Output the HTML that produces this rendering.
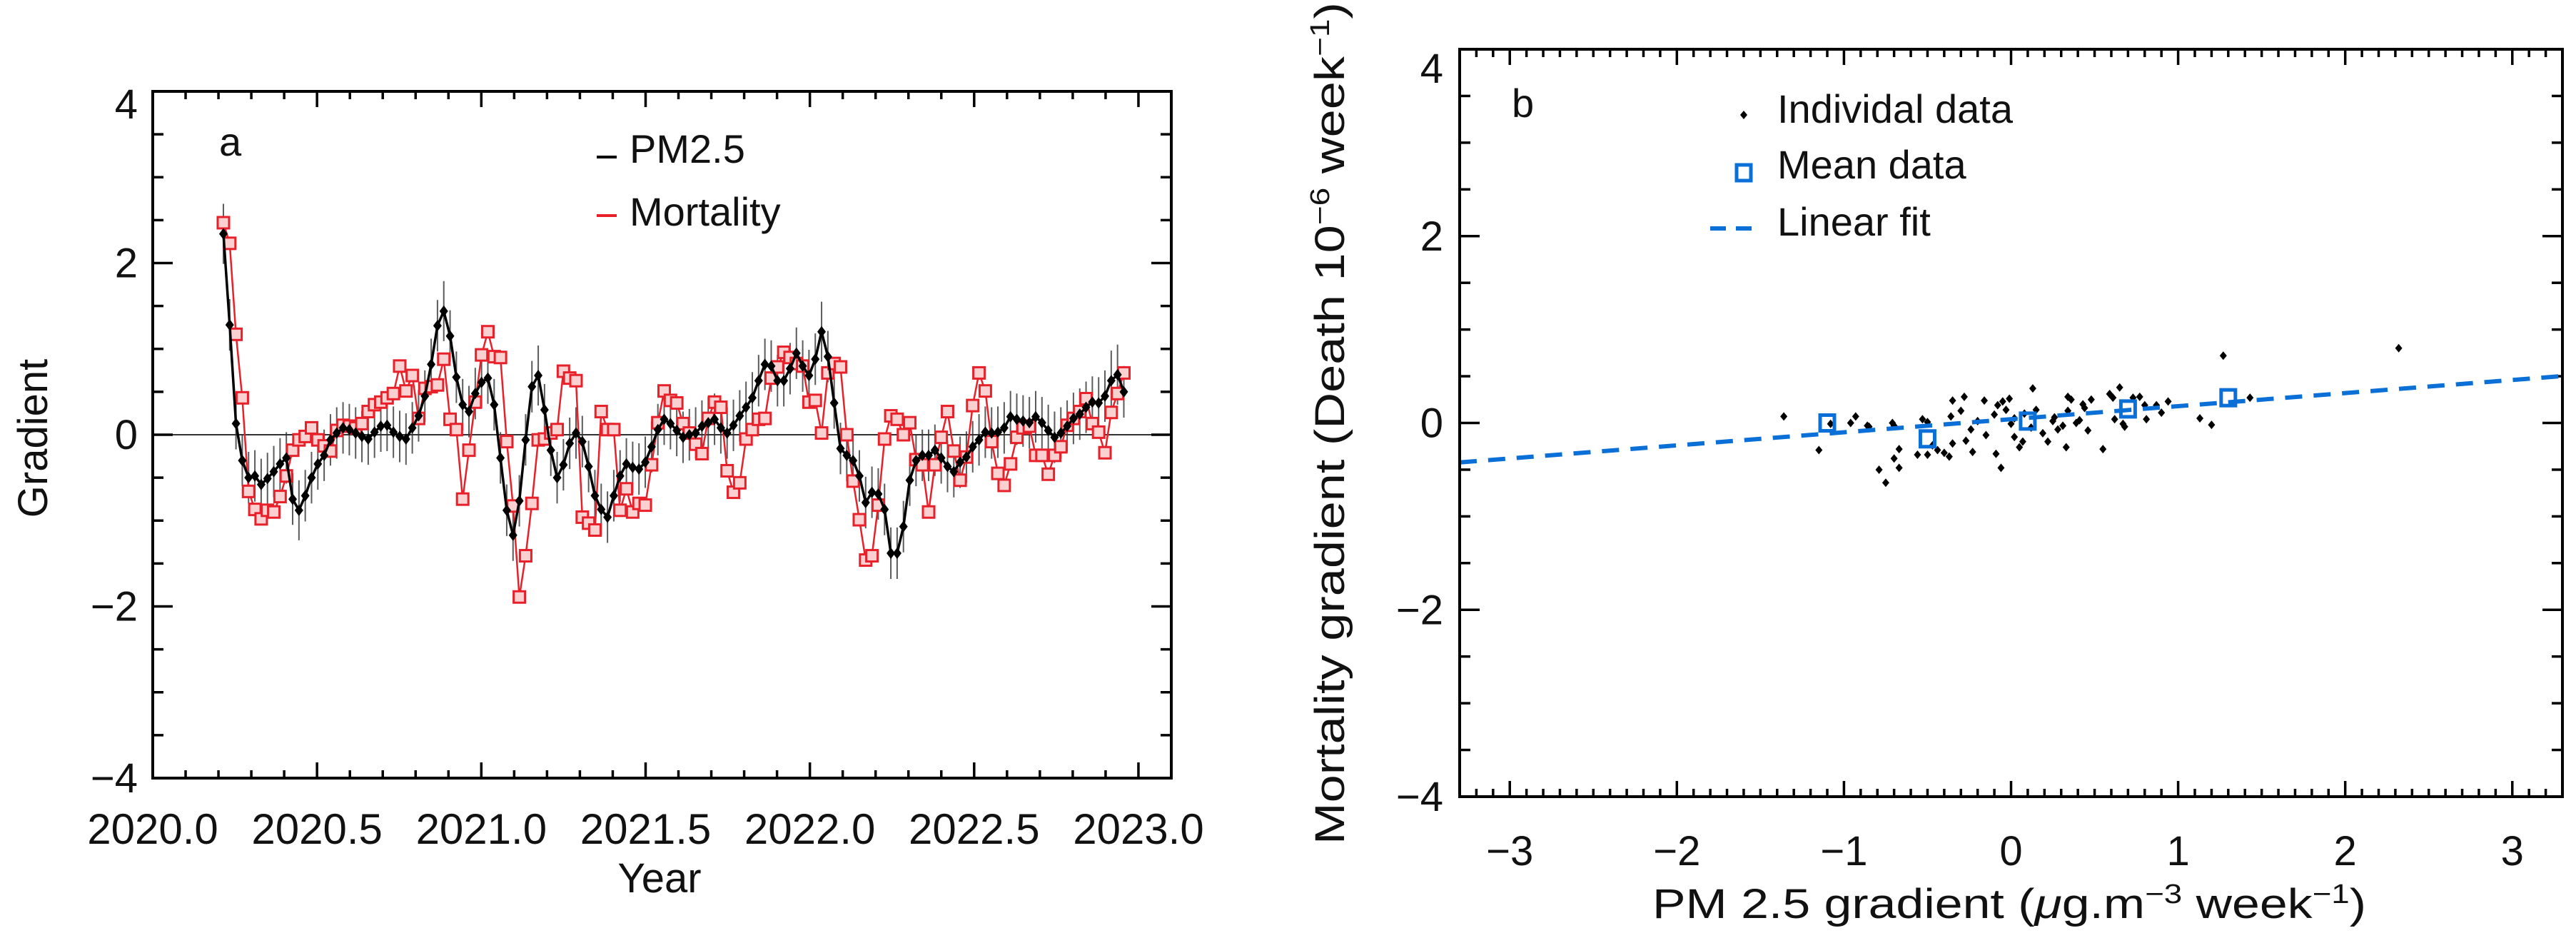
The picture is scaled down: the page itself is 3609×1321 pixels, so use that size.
<!DOCTYPE html>
<html><head><meta charset="utf-8"><style>
html,body{margin:0;padding:0;background:#fff;}
svg{display:block;font-family:"Liberation Sans",sans-serif;}
</style></head><body>
<svg id="fig" width="3609" height="1321" viewBox="0 0 3609 1321" xmlns="http://www.w3.org/2000/svg">
<rect x="0" y="0" width="3609" height="1321" fill="#fff"/>
<g id="panelA"></g>
<g id="panelB"></g>
</svg>
<script>
// ---------- Panel a data ----------
const weekStart = 2020.215;
const weekStep = 1/52.18;
const pmValues = [2.34,1.28,0.13,-0.30,-0.50,-0.48,-0.58,-0.51,-0.43,-0.34,-0.27,-0.75,-0.88,-0.71,-0.50,-0.34,-0.24,-0.06,0.02,0.08,0.06,0.02,-0.02,-0.05,0.03,0.10,0.11,0.03,-0.02,-0.05,0.08,0.22,0.45,0.82,1.27,1.44,1.15,0.67,0.35,0.27,0.48,0.61,0.66,0.35,-0.27,-0.88,-1.17,-0.77,-0.06,0.56,0.69,0.29,-0.18,-0.50,-0.35,-0.10,0.02,-0.08,-0.37,-0.71,-0.87,-0.96,-0.71,-0.48,-0.34,-0.38,-0.40,-0.32,-0.14,0.06,0.18,0.13,0.05,-0.03,0.00,0.02,0.10,0.14,0.18,0.08,0.02,0.11,0.22,0.32,0.43,0.63,0.82,0.80,0.63,0.63,0.77,0.95,0.80,0.69,0.88,1.20,0.91,0.37,-0.16,-0.24,-0.30,-0.48,-0.79,-0.67,-0.69,-0.87,-1.38,-1.38,-1.07,-0.53,-0.30,-0.24,-0.24,-0.18,-0.27,-0.37,-0.43,-0.32,-0.26,-0.14,-0.06,0.03,0.02,0.03,0.08,0.21,0.18,0.16,0.14,0.21,0.14,0.05,-0.03,0.02,0.10,0.19,0.24,0.32,0.38,0.37,0.45,0.63,0.70,0.50];
const pmErr = [0.35,0.3,0.3,0.3,0.3,0.3,0.3,0.3,0.3,0.3,0.3,0.3,0.35,0.3,0.3,0.3,0.3,0.3,0.3,0.3,0.3,0.3,0.3,0.3,0.3,0.3,0.3,0.3,0.3,0.3,0.3,0.3,0.3,0.3,0.3,0.35,0.3,0.3,0.3,0.3,0.3,0.3,0.3,0.3,0.3,0.3,0.3,0.3,0.3,0.3,0.35,0.3,0.3,0.3,0.3,0.3,0.3,0.3,0.3,0.3,0.3,0.3,0.3,0.3,0.3,0.3,0.3,0.3,0.3,0.3,0.3,0.3,0.3,0.3,0.3,0.3,0.3,0.3,0.3,0.3,0.3,0.3,0.3,0.3,0.3,0.3,0.3,0.3,0.3,0.3,0.3,0.3,0.3,0.3,0.3,0.35,0.3,0.3,0.3,0.3,0.3,0.3,0.3,0.3,0.3,0.3,0.3,0.3,0.3,0.3,0.3,0.3,0.3,0.3,0.3,0.3,0.3,0.3,0.3,0.3,0.3,0.3,0.3,0.3,0.3,0.3,0.3,0.3,0.3,0.3,0.3,0.3,0.3,0.3,0.3,0.3,0.3,0.3,0.3,0.3,0.3,0.35,0.35,0.3];
const mortValues = [2.47,2.23,1.17,0.43,-0.66,-0.87,-0.98,-0.88,-0.90,-0.72,-0.48,-0.18,-0.06,-0.02,0.08,-0.06,-0.13,-0.19,0.05,0.11,0.10,0.08,0.13,0.27,0.35,0.38,0.43,0.48,0.80,0.51,0.69,0.19,0.54,0.56,0.58,0.88,0.18,0.06,-0.75,-0.18,0.38,0.93,1.20,0.91,0.90,-0.08,-0.83,-1.89,-1.41,-0.80,-0.06,-0.05,0.02,0.06,0.74,0.66,0.63,-0.96,-1.03,-1.11,0.27,0.06,0.06,-0.88,-0.63,-0.90,-0.80,-0.82,-0.35,0.14,0.51,0.40,0.37,0.13,0.02,-0.11,-0.22,0.19,0.38,0.32,-0.42,-0.67,-0.56,-0.05,0.06,0.18,0.19,0.66,0.79,0.96,0.90,0.83,0.80,0.38,0.40,0.02,0.72,0.83,0.79,0.00,-0.54,-0.99,-1.46,-1.41,-0.82,-0.05,0.22,0.18,0.00,0.14,-0.29,-0.35,-0.90,-0.35,-0.03,0.27,-0.19,-0.53,-0.26,0.34,0.72,0.51,-0.08,-0.45,-0.59,-0.34,-0.03,0.08,0.10,-0.24,-0.24,-0.46,-0.24,-0.14,0.11,0.19,0.27,0.42,0.13,0.03,-0.21,0.26,0.48,0.72];
const aXTicks = ["2020.0","2020.5","2021.0","2021.5","2022.0","2022.5","2023.0"];
const aYTicks = ["4","2","0","\u22122","\u22124"];

// ---------- Panel b data ----------
const indivX = [-1.36,-1.15,-1.08,-0.96,-0.93,-0.86,-0.85,-0.71,-0.70,-0.79,-0.75,-0.70,-0.67,-0.67,-0.56,-0.53,-0.50,-0.50,-0.47,-0.44,-0.40,-0.37,-0.35,-0.35,-0.36,-0.30,-0.28,-0.27,-0.24,-0.23,-0.16,-0.15,-0.09,-0.06,-0.10,-0.08,-0.05,-0.01,-0.03,0.00,0.02,0.07,0.05,0.13,0.15,0.19,0.22,0.26,0.28,0.31,0.33,0.34,0.36,0.34,0.39,0.41,0.43,0.44,0.46,0.48,0.55,0.59,0.61,0.65,0.62,0.67,0.68,0.73,0.77,0.80,0.81,0.87,0.90,0.94,1.13,1.20,1.43,1.27,2.32,0.02,0.08,-0.20,0.12,0.25];
const indivY = [0.07,-0.29,-0.01,0.00,0.07,-0.03,-0.04,0.00,-0.03,-0.50,-0.64,-0.38,-0.48,-0.28,-0.34,0.04,0.01,-0.34,-0.24,-0.29,-0.32,-0.36,-0.22,0.24,0.07,0.13,0.28,-0.19,-0.07,-0.31,0.24,-0.13,-0.33,-0.48,0.09,0.19,0.23,0.26,0.14,-0.01,-0.15,-0.20,-0.26,0.37,0.14,-0.11,-0.20,0.06,-0.07,-0.03,-0.26,0.28,0.25,0.13,0.00,0.03,0.20,0.16,-0.08,0.25,-0.28,0.31,0.27,0.38,0.04,-0.01,-0.04,0.27,0.28,0.19,0.04,0.19,0.11,0.23,0.05,-0.02,0.27,0.72,0.80,0.05,0.10,0.02,-0.05,0.02];
const meanX = [-1.1,-0.5,0.1,0.7,1.3];
const meanY = [0.0,-0.17,0.02,0.15,0.27];
const fitSlope = [0.14];
const fitIntercept = [0.04];
const bXTicks = ["\u22123","\u22122","\u22121","0","1","2","3"];
const bXTickVals = [-3,-2,-1,0,1,2,3];
const bYTicks = ["4","2","0","\u22122","\u22124"];
const bYTickVals = [4,2,0,-2,-4];

const NS = "http://www.w3.org/2000/svg";
function mk(parent, tag, attrs){
  const e = document.createElementNS(NS, tag);
  for (const k in attrs) e.setAttribute(k, attrs[k]);
  parent.appendChild(e);
  return e;
}

// ================= PANEL A =================
(function(){
  const g = document.getElementById('panelA');
  const L=214, R=1641, T=128, B=1090;
  const x0=2020.0, x1=2023.1, y0=-4, y1=4;
  const xs = v => L + (v-x0)/(x1-x0)*(R-L);
  const ys = v => B - (v-y0)/(y1-y0)*(B-T);

  const z = mk(g,'line',{x1:L,x2:R,y1:ys(0),y2:ys(0),stroke:'#333','stroke-width':2});
  
  

  const tg = mk(g,'g',{stroke:'#000','stroke-width':3.5});
  
  
  for (let k=0;k<=31;k++){
    const v = x0 + k*0.1, x = xs(v);
    const len = (k%5===0)?22:11;
    mk(tg,'line',{x1:x,x2:x,y1:B,y2:B-len});
    mk(tg,'line',{x1:x,x2:x,y1:T,y2:T+len});
  }
  for (let k=0;k<=16;k++){
    const v = y0 + k*0.5, y = ys(v);
    const len = (k%4===0)?28:15;
    mk(tg,'line',{x1:L,x2:L+len,y1:y,y2:y});
    mk(tg,'line',{x1:R,x2:R-len,y1:y,y2:y});
  }

  const eg = mk(g,'g',{stroke:'#333','stroke-width':2,opacity:0.8});
  
  
  pmValues.forEach((v,i)=>{
    const x = xs(weekStart + i*weekStep);
    mk(eg,'line',{x1:x,x2:x,y1:ys(v+pmErr[i]),y2:ys(v-pmErr[i])});
  });

  let dm = '';
  mortValues.forEach((v,i)=>{ dm += (i?'L':'M') + xs(weekStart+i*weekStep).toFixed(1) + ',' + ys(v).toFixed(1); });
  const ml = mk(g,'path',{d:dm,fill:'none',stroke:'#e8202a','stroke-width':2.5});
  
  
  const mg = mk(g,'g',{fill:'#fbd0d0',stroke:'#e8202a','stroke-width':3});
  
  
  mortValues.forEach((v,i)=>{
    const x = xs(weekStart+i*weekStep), y = ys(v);
    const r = mk(mg,'rect',{x:x-8,y:y-8,width:16,height:16});
    
    
  });

  let dp = '';
  pmValues.forEach((v,i)=>{ dp += (i?'L':'M') + xs(weekStart+i*weekStep).toFixed(1) + ',' + ys(v).toFixed(1); });
  const pl = mk(g,'path',{d:dp,fill:'none',stroke:'#000','stroke-width':3.5});
  
  
  const pg = mk(g,'g',{fill:'#000'});
  
  
  pmValues.forEach((v,i)=>{
    const x = xs(weekStart+i*weekStep), y = ys(v);
    const p = mk(pg,'polygon',{points:`${x},${y-8} ${x+6},${y} ${x},${y+8} ${x-6},${y}`});
    
    
  });

  const fr = mk(g,'rect',{x:L,y:T,width:R-L,height:B-T,fill:'none',stroke:'#000','stroke-width':4});
  
  

  aXTicks.forEach((s,i)=>{
    const t = mk(g,'text',{x:xs(2020+0.5*i),y:1182,'font-size':60,'text-anchor':'middle',fill:'#111'});
    t.textContent = s;
    
    
  });
  aYTicks.forEach((s,i)=>{
    const v = 4 - 2*i;
    let cy = ys(v); if (i===0) cy = 146;
    const t = mk(g,'text',{x:193,y:cy+20,'font-size':58,'text-anchor':'end',fill:'#111'});
    t.textContent = s;
    
    
  });
})();

// ================= PANEL B =================
(function(){
  const g = document.getElementById('panelB');
  const L=2045, R=3590, T=69, B=1116;
  const x0=-3.3, x1=3.3, y0=-4, y1=4;
  const xs = v => L + (v-x0)/(x1-x0)*(R-L);
  const ys = v => B - (v-y0)/(y1-y0)*(B-T);

  const tg = mk(g,'g',{stroke:'#000','stroke-width':3.5});
  
  
  for (let k=-33;k<=33;k++){
    const x = xs(k/10);
    const len = (k%10===0)?22:11;
    mk(tg,'line',{x1:x,x2:x,y1:B,y2:B-len});
    mk(tg,'line',{x1:x,x2:x,y1:T,y2:T+len});
  }
  for (let k=0;k<=16;k++){
    const y = ys(y0 + k*0.5);
    const len = (k%4===0)?28:15;
    mk(tg,'line',{x1:L,x2:L+len,y1:y,y2:y});
    mk(tg,'line',{x1:R,x2:R-len,y1:y,y2:y});
  }

  const dg = mk(g,'g',{fill:'#000'});
  
  
  indivX.forEach((v,i)=>{
    const x = xs(v), y = ys(indivY[i]);
    const p = mk(dg,'polygon',{points:`${x},${y-6} ${x+5},${y} ${x},${y+6} ${x-5},${y}`});
    
    
  });

  const fl = mk(g,'line',{x1:xs(x0),y1:ys(fitIntercept[0]+fitSlope[0]*x0),x2:xs(x1),y2:ys(fitIntercept[0]+fitSlope[0]*x1),stroke:'#0a6fd6','stroke-width':6,'stroke-dasharray':'24,16'});
  
  

  const sg = mk(g,'g',{fill:'none',stroke:'#0a6fd6','stroke-width':5});
  
  
  meanX.forEach((v,i)=>{
    const x = xs(v), y = ys(meanY[i]);
    const r = mk(sg,'rect',{x:x-10,y:y-11,width:20,height:22});
    
    
  });

  const fr = mk(g,'rect',{x:L,y:T,width:R-L,height:B-T,fill:'none',stroke:'#000','stroke-width':4});
  
  

  bXTicks.forEach((s,i)=>{
    const t = mk(g,'text',{x:xs(bXTickVals[i]),y:1212,'font-size':58,'text-anchor':'middle',fill:'#111'});
    t.textContent = s;
    
    
  });
  bYTicks.forEach((s,i)=>{
    let cy = ys(bYTickVals[i]); if (i===0) cy = 96;
    const t = mk(g,'text',{x:2022,y:cy+20,'font-size':58,'text-anchor':'end',fill:'#111'});
    t.textContent = s;
    
    
  });
})();
</script>

<svg style="position:absolute;left:0;top:0" width="3609" height="1321" viewBox="0 0 3609 1321" xmlns="http://www.w3.org/2000/svg">
<g font-family="Liberation Sans, sans-serif" fill="#111">
  <text x="307" y="218" font-size="56">a</text>
  <line x1="836" y1="220" x2="864" y2="220" stroke="#000" stroke-width="4"/>
  <text x="882" y="228" font-size="56">PM2.5</text>
  <line x1="836" y1="302" x2="864" y2="302" stroke="#e8202a" stroke-width="4"/>
  <text x="882" y="316" font-size="56">Mortality</text>
  <text x="924" y="1250" font-size="58" text-anchor="middle">Year</text>
  <text transform="translate(66,614) rotate(-90)" font-size="58" text-anchor="middle">Gradient</text>

  <text x="2118" y="164" font-size="56">b</text>
  <polygon points="2443,155 2448,161 2443,167 2438,161" fill="#000"/>
  <text x="2490" y="172" font-size="56">Individal data</text>
  <rect x="2433" y="231" width="20" height="22" fill="none" stroke="#0a6fd6" stroke-width="5"/>
  <text x="2490" y="250" font-size="56">Mean data</text>
  <line x1="2396" y1="320" x2="2456" y2="320" stroke="#0a6fd6" stroke-width="6" stroke-dasharray="22,14"/>
  <text x="2490" y="330" font-size="56">Linear fit</text>
  <text x="2815" y="1286" font-size="58" text-anchor="middle" textLength="1000" lengthAdjust="spacingAndGlyphs">PM 2.5 gradient (<tspan font-style="italic">μ</tspan>g.m<tspan baseline-shift="super" font-size="38">−3</tspan> week<tspan baseline-shift="super" font-size="38">−1</tspan>)</text>
  <text transform="translate(1883,593) rotate(-90)" font-size="58" text-anchor="middle" textLength="1180" lengthAdjust="spacingAndGlyphs">Mortality gradient (Death 10<tspan baseline-shift="super" font-size="38">−6</tspan> week<tspan baseline-shift="super" font-size="38">−1</tspan>)</text>
</g>
</svg>
</body></html>
